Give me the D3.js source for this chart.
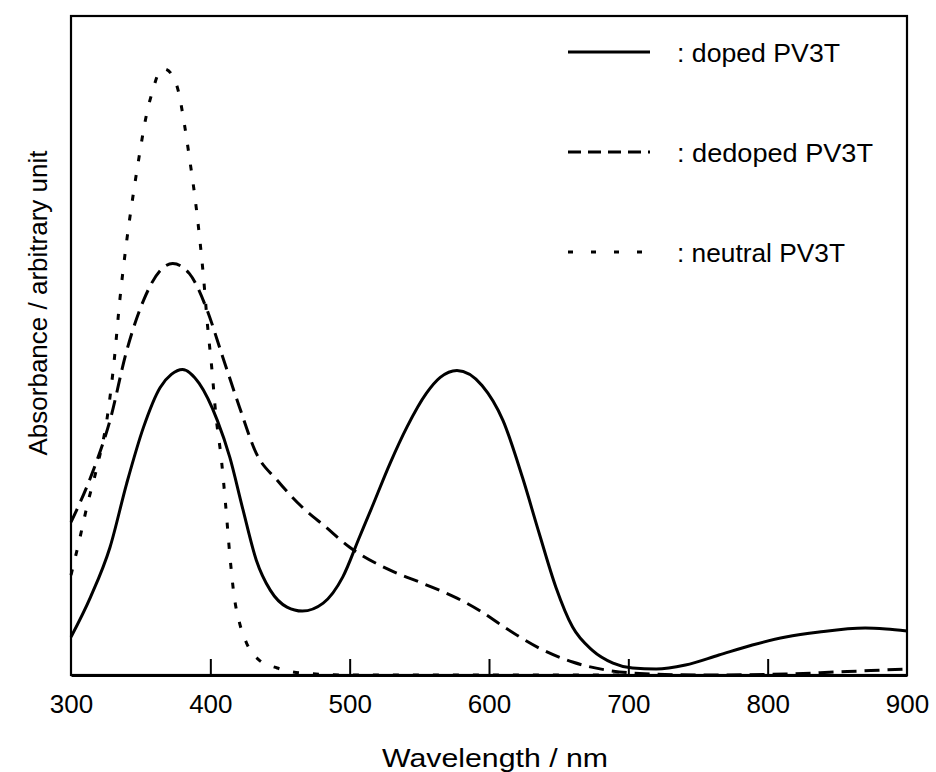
<!DOCTYPE html>
<html>
<head>
<meta charset="utf-8">
<script src="https://cdn.jsdelivr.net/npm/d3@7"></script>
<style>
  body { margin: 0; background: #fff; }
  svg { font-family: "Liberation Sans", Arial, sans-serif; }
</style>
</head>
<body>
<svg id="drawing_region"></svg>
<script>
// wavelength (nm) / absorbance (arbitrary unit)
const dopedWl  = [300, 314, 328, 340, 352, 364, 372, 380, 392, 405, 414, 423, 433, 443, 455, 466, 481, 495, 507, 516, 529, 541, 555, 565, 577, 595, 610, 624, 636, 648, 660, 674, 689, 703, 720, 741, 765, 789, 813, 837, 870, 885, 900];
const dopedAbs = [0.38, 0.78, 1.28, 1.92, 2.48, 2.88, 3.01, 3.06, 2.92, 2.55, 2.18, 1.68, 1.15, 0.85, 0.68, 0.64, 0.72, 0.98, 1.38, 1.68, 2.12, 2.48, 2.82, 2.98, 3.05, 2.90, 2.55, 1.98, 1.42, 0.88, 0.48, 0.25, 0.12, 0.07, 0.06, 0.10, 0.20, 0.30, 0.38, 0.43, 0.47, 0.46, 0.44];

const dedopedWl  = [300, 316, 328, 340, 352, 364, 373, 385, 397, 409, 421, 433, 448, 466, 483, 500, 529, 552, 577, 595, 612, 636, 660, 684, 703, 750, 813, 849, 900];
const dedopedAbs = [1.53, 2.05, 2.55, 3.25, 3.75, 4.05, 4.12, 4.02, 3.68, 3.18, 2.68, 2.22, 1.95, 1.68, 1.48, 1.28, 1.05, 0.92, 0.77, 0.63, 0.47, 0.27, 0.13, 0.05, 0.02, 0.00, 0.01, 0.03, 0.06];

const neutralWl  = [300, 306, 312, 319, 326, 331, 335, 340, 344, 349, 354, 359, 363, 367, 372, 377, 381, 385, 389, 392, 395, 398, 401, 404, 408, 411, 414, 417, 421, 426, 435, 448, 465, 500, 700];
const neutralAbs = [1.00, 1.35, 1.72, 2.10, 2.58, 3.15, 3.75, 4.35, 4.75, 5.20, 5.60, 5.87, 6.03, 6.07, 6.02, 5.85, 5.55, 5.18, 4.78, 4.42, 4.00, 3.50, 3.08, 2.60, 2.15, 1.70, 1.20, 0.80, 0.52, 0.32, 0.15, 0.07, 0.02, 0.00, 0.00];

const xTicks = [300, 400, 500, 600, 700, 800, 900];
const legendNames = [": doped PV3T", ": dedoped PV3T", ": neutral PV3T"];

const config = {
    width: 936,
    height: 772,
    margin: {top: 16, right: 29, bottom: 97, left: 71}
};

const svg = d3.select('#drawing_region')
    .attr('width', config.width)
    .attr('height', config.height);

const inner_width = config.width - config.margin.left - config.margin.right;
const inner_height = config.height - config.margin.top - config.margin.bottom;

const chart = svg.append('g')
    .attr('transform', `translate(${config.margin.left}, ${config.margin.top})`);

const xscale = d3.scaleLinear().domain([300, 900]).range([0, inner_width]);
const yscale = d3.scaleLinear().domain([0, 6.6]).range([inner_height, 0]);

// frame
chart.append('rect')
    .attr('x', 0).attr('y', 0)
    .attr('width', inner_width).attr('height', inner_height)
    .attr('fill', 'none')
    .attr('stroke', 'black')
    .attr('stroke-width', 2.2);

// x axis: inner ticks, labels below
const xaxis = d3.axisBottom(xscale)
    .tickValues(xTicks)
    .tickSizeInner(-16)
    .tickSizeOuter(0)
    .tickPadding(20)
    .tickFormat(d3.format('d'));

const xaxis_group = chart.append('g')
    .attr('transform', `translate(0, ${inner_height})`)
    .call(xaxis);

xaxis_group.select('.domain')
    .attr('stroke-width', 3.2);
xaxis_group.selectAll('.tick line')
    .attr('stroke-width', 2)
    .filter(d => d === 300 || d === 900).remove();
xaxis_group.selectAll('.tick text')
    .attr('font-size', '26px')
    .attr('font-family', '"Liberation Sans", Arial, sans-serif')
    .attr('fill', 'black');

// curves
const series = [
    {wl: dopedWl, abs: dopedAbs, dash: null},
    {wl: dedopedWl, abs: dedopedAbs, dash: '15,8'},
    {wl: neutralWl, abs: neutralAbs, dash: '6,14'}
];

const line = d3.line()
    .x(d => xscale(d[0]))
    .y(d => yscale(d[1]))
    .curve(d3.curveMonotoneX);

series.forEach(s => {
    chart.append('path')
        .datum(d3.zip(s.wl, s.abs))
        .attr('fill', 'none')
        .attr('stroke', 'black')
        .attr('stroke-width', 3)
        .attr('stroke-dasharray', s.dash)
        .attr('d', line);
});

// legend
const legend = svg.append('g');
const legendDash = [null, '13,7', '5,18'];
const legendLen = [163, 196, 168];
legendNames.forEach((name, i) => {
    const y = 52 + i * 100;
    legend.append('line')
        .attr('x1', 568).attr('x2', i === 2 ? 645 : 650)
        .attr('y1', y).attr('y2', y)
        .attr('stroke', 'black')
        .attr('stroke-width', 3)
        .attr('stroke-dasharray', legendDash[i]);
    legend.append('text')
        .attr('x', 677)
        .attr('y', y + 10)
        .attr('font-size', '25px')
        .attr('textLength', legendLen[i])
        .attr('lengthAdjust', 'spacingAndGlyphs')
        .text(name);
});

// axis titles
svg.append('text')
    .attr('x', 495)
    .attr('y', 767)
    .attr('text-anchor', 'middle')
    .attr('font-size', '26px')
    .attr('textLength', 226)
    .attr('lengthAdjust', 'spacingAndGlyphs')
    .text('Wavelength / nm');

svg.append('text')
    .attr('transform', `translate(47, 303) rotate(-90)`)
    .attr('text-anchor', 'middle')
    .attr('font-size', '26px')
    .text('Absorbance / arbitrary unit');
</script>
</body>
</html>
